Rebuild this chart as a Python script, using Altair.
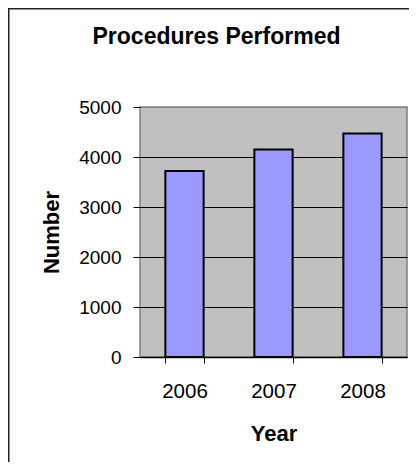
import altair as alt
import pandas as pd

years = ["2006", "2007", "2008"]
procedures = [3720, 4150, 4470]
y_ticks = [0, 1000, 2000, 3000, 4000, 5000]

df = pd.DataFrame({"Year": years, "Number": procedures})

W, H = 267, 250
PAD_L, PAD_T, PAD_R, PAD_B = 132, 99, 2, 105
FONT = "Liberation Sans"

bars = alt.Chart(df).mark_bar(color="#9999FF", stroke="black", strokeWidth=2).encode(
    x=alt.X(
        "Year:N",
        scale=alt.Scale(paddingInner=0.57, paddingOuter=0.285),
        axis=alt.Axis(
            title="Year", labelAngle=0, tickBand="extent", grid=False,
            domainColor="black", domainWidth=1.5, tickColor="black", tickSize=6,
            labelBaseline="alphabetic", labelPadding=34, labelFontSize=20.5,
            labelFont=FONT, labelColor="black",
            titleFont=FONT, titleFontSize=22, titleFontWeight="bold", titleColor="black",
            titleX=W / 2, titleY=83, titleBaseline="alphabetic", titleAlign="center",
        ),
    ),
    y=alt.Y(
        "Number:Q",
        scale=alt.Scale(domain=[0, 5000], nice=False),
        axis=alt.Axis(
            title="Number", values=y_ticks, format="d", domain=False, grid=True,
            gridColor={"condition": {"test": "datum.value == 5000", "value": "#808080"}, "value": "black"},
            gridWidth=1, tickColor="black", tickSize=7, labelPadding=12,
            labelFontSize=19, labelFont=FONT, labelColor="black",
            titleFont=FONT, titleFontSize=22, titleFontWeight="bold", titleColor="black",
            titleX=-82, titleY=H / 2, titleBaseline="alphabetic", titleAlign="center",
            titleAngle=270,
        ),
    ),
)

frame = pd.DataFrame({"k": [0]})
left_rule = alt.Chart(frame).mark_rule(color="#222222", strokeWidth=1.5).encode(
    x=alt.value(-PAD_L + 0.75), y=alt.value(-PAD_T), y2=alt.value(H + PAD_B)
)
top_rule = alt.Chart(frame).mark_rule(color="#222222", strokeWidth=1.5).encode(
    x=alt.value(-PAD_L), x2=alt.value(W + PAD_R), y=alt.value(-PAD_T + 0.75)
)

chart = alt.layer(bars, left_rule, top_rule).properties(
    width=W,
    height=H,
    background="white",
    padding={"left": PAD_L, "top": PAD_T, "right": PAD_R, "bottom": PAD_B},
    autosize=alt.AutoSizeParams(type="none"),
    title=alt.TitleParams(
        "Procedures Performed", font=FONT, fontSize=23, fontWeight="bold",
        color="black", anchor="middle", dx=-57, dy=60, offset=0, baseline="alphabetic",
    ),
).configure_view(fill="#C0C0C0", stroke="#808080", strokeWidth=1.5)

chart.save("out.html", embed_options={"renderer": "svg", "actions": False})
